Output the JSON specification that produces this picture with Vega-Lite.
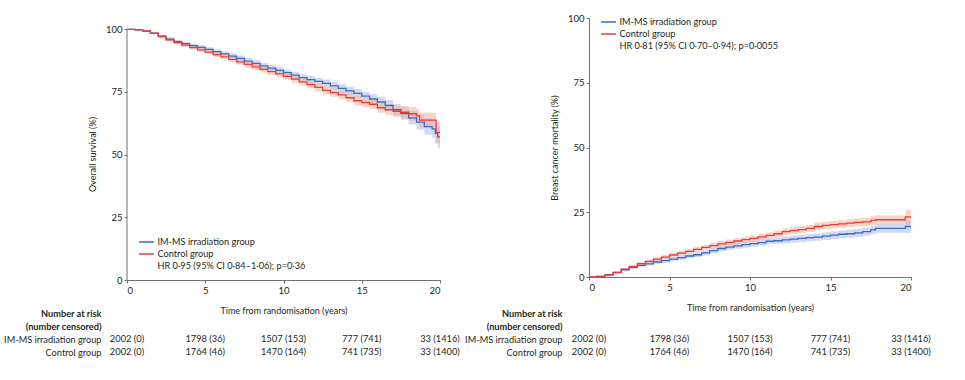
{
  "$schema": "https://vega.github.io/schema/vega-lite/v6.json",
  "background": "white",
  "padding": {"left": 3, "top": 13, "right": 0, "bottom": 0},
  "config": {
    "view": {"stroke": null},
    "axis": {"grid": false, "domainColor": "#707070", "tickColor": "#707070", "labelColor": "#231f20", "titleColor": "#231f20", "labelFont": "Lato", "labelFontSize": 9.5, "titleFont": "Lato", "titleFontSize": 9, "titleFontWeight": "normal", "tickSize": 3, "labelPadding": 2},
    "legend": {"labelFont": "Lato", "labelFontSize": 9.2, "labelColor": "#231f20", "labelLimit": 400, "symbolType": "M-1.5,0H1.5", "symbolStrokeWidth": 1.5, "symbolSize": 100, "rowPadding": -1.5, "labelOffset": 5},
    "text": {"font": "Lato", "fontSize": 9.3, "color": "#231f20"}
  },
  "datasets": {
    "os": [
      {"g": "IM-MS irradiation group", "t": 0, "v": 100, "lo": 100, "hi": 100},
      {"g": "IM-MS irradiation group", "t": 0.5, "v": 99.8, "lo": 99.6, "hi": 100},
      {"g": "IM-MS irradiation group", "t": 1, "v": 99.3, "lo": 98.9, "hi": 99.7},
      {"g": "IM-MS irradiation group", "t": 1.5, "v": 98.5, "lo": 98.0, "hi": 99.0},
      {"g": "IM-MS irradiation group", "t": 2, "v": 97.3, "lo": 96.7, "hi": 97.9},
      {"g": "IM-MS irradiation group", "t": 2.5, "v": 96.1, "lo": 95.4, "hi": 96.8},
      {"g": "IM-MS irradiation group", "t": 3, "v": 95.1, "lo": 94.4, "hi": 95.8},
      {"g": "IM-MS irradiation group", "t": 3.5, "v": 94.3, "lo": 93.5, "hi": 95.0},
      {"g": "IM-MS irradiation group", "t": 4, "v": 93.5, "lo": 92.7, "hi": 94.3},
      {"g": "IM-MS irradiation group", "t": 4.5, "v": 92.8, "lo": 91.9, "hi": 93.7},
      {"g": "IM-MS irradiation group", "t": 5, "v": 92.0, "lo": 91.1, "hi": 92.9},
      {"g": "IM-MS irradiation group", "t": 5.5, "v": 91.1, "lo": 90.1, "hi": 92.0},
      {"g": "IM-MS irradiation group", "t": 6, "v": 90.2, "lo": 89.2, "hi": 91.2},
      {"g": "IM-MS irradiation group", "t": 6.5, "v": 89.3, "lo": 88.2, "hi": 90.4},
      {"g": "IM-MS irradiation group", "t": 7, "v": 88.4, "lo": 87.3, "hi": 89.5},
      {"g": "IM-MS irradiation group", "t": 7.5, "v": 87.3, "lo": 86.1, "hi": 88.5},
      {"g": "IM-MS irradiation group", "t": 8, "v": 86.4, "lo": 85.2, "hi": 87.6},
      {"g": "IM-MS irradiation group", "t": 8.5, "v": 85.4, "lo": 84.2, "hi": 86.6},
      {"g": "IM-MS irradiation group", "t": 9, "v": 84.5, "lo": 83.2, "hi": 85.8},
      {"g": "IM-MS irradiation group", "t": 9.5, "v": 83.6, "lo": 82.3, "hi": 84.9},
      {"g": "IM-MS irradiation group", "t": 10, "v": 82.7, "lo": 81.4, "hi": 84.0},
      {"g": "IM-MS irradiation group", "t": 10.5, "v": 81.7, "lo": 80.3, "hi": 83.1},
      {"g": "IM-MS irradiation group", "t": 11, "v": 80.7, "lo": 79.3, "hi": 82.1},
      {"g": "IM-MS irradiation group", "t": 11.5, "v": 79.9, "lo": 78.4, "hi": 81.4},
      {"g": "IM-MS irradiation group", "t": 12, "v": 79.2, "lo": 77.7, "hi": 80.7},
      {"g": "IM-MS irradiation group", "t": 12.5, "v": 78.4, "lo": 76.8, "hi": 80.0},
      {"g": "IM-MS irradiation group", "t": 13, "v": 77.4, "lo": 75.8, "hi": 79.0},
      {"g": "IM-MS irradiation group", "t": 13.5, "v": 76.4, "lo": 74.7, "hi": 78.1},
      {"g": "IM-MS irradiation group", "t": 14, "v": 75.4, "lo": 73.7, "hi": 77.1},
      {"g": "IM-MS irradiation group", "t": 14.5, "v": 74.4, "lo": 72.6, "hi": 76.2},
      {"g": "IM-MS irradiation group", "t": 15, "v": 73.3, "lo": 71.5, "hi": 75.1},
      {"g": "IM-MS irradiation group", "t": 15.5, "v": 72.2, "lo": 70.3, "hi": 74.1},
      {"g": "IM-MS irradiation group", "t": 16, "v": 71.0, "lo": 69.0, "hi": 73.0},
      {"g": "IM-MS irradiation group", "t": 16.5, "v": 69.6, "lo": 67.4, "hi": 71.8},
      {"g": "IM-MS irradiation group", "t": 17, "v": 67.9, "lo": 65.6, "hi": 70.2},
      {"g": "IM-MS irradiation group", "t": 17.5, "v": 66.4, "lo": 63.9, "hi": 68.9},
      {"g": "IM-MS irradiation group", "t": 18, "v": 64.7, "lo": 62.0, "hi": 67.4},
      {"g": "IM-MS irradiation group", "t": 18.5, "v": 63.0, "lo": 60.0, "hi": 66.0},
      {"g": "IM-MS irradiation group", "t": 19, "v": 61.2, "lo": 57.9, "hi": 64.5},
      {"g": "IM-MS irradiation group", "t": 19.5, "v": 60.3, "lo": 56.7, "hi": 63.9},
      {"g": "IM-MS irradiation group", "t": 19.7, "v": 58.5, "lo": 54.5, "hi": 62.5},
      {"g": "IM-MS irradiation group", "t": 19.85, "v": 57.1, "lo": 52.6, "hi": 61.6},
      {"g": "IM-MS irradiation group", "t": 20, "v": 57.1, "lo": 52.6, "hi": 61.6},
      {"g": "Control group", "t": 0, "v": 100, "lo": 100, "hi": 100},
      {"g": "Control group", "t": 0.5, "v": 99.8, "lo": 99.6, "hi": 100},
      {"g": "Control group", "t": 1, "v": 99.4, "lo": 99.0, "hi": 99.8},
      {"g": "Control group", "t": 1.5, "v": 98.4, "lo": 97.9, "hi": 98.9},
      {"g": "Control group", "t": 2, "v": 97.1, "lo": 96.5, "hi": 97.7},
      {"g": "Control group", "t": 2.5, "v": 95.8, "lo": 95.1, "hi": 96.5},
      {"g": "Control group", "t": 3, "v": 94.7, "lo": 94.0, "hi": 95.4},
      {"g": "Control group", "t": 3.5, "v": 93.7, "lo": 92.9, "hi": 94.5},
      {"g": "Control group", "t": 4, "v": 92.7, "lo": 91.9, "hi": 93.5},
      {"g": "Control group", "t": 4.5, "v": 91.8, "lo": 90.9, "hi": 92.7},
      {"g": "Control group", "t": 5, "v": 90.9, "lo": 90.0, "hi": 91.8},
      {"g": "Control group", "t": 5.5, "v": 89.9, "lo": 88.9, "hi": 90.9},
      {"g": "Control group", "t": 6, "v": 89.0, "lo": 88.0, "hi": 90.0},
      {"g": "Control group", "t": 6.5, "v": 88.0, "lo": 86.9, "hi": 89.1},
      {"g": "Control group", "t": 7, "v": 87.0, "lo": 85.9, "hi": 88.1},
      {"g": "Control group", "t": 7.5, "v": 86.0, "lo": 84.8, "hi": 87.2},
      {"g": "Control group", "t": 8, "v": 85.0, "lo": 83.8, "hi": 86.2},
      {"g": "Control group", "t": 8.5, "v": 84.0, "lo": 82.8, "hi": 85.2},
      {"g": "Control group", "t": 9, "v": 83.1, "lo": 81.8, "hi": 84.4},
      {"g": "Control group", "t": 9.5, "v": 82.2, "lo": 80.9, "hi": 83.5},
      {"g": "Control group", "t": 10, "v": 81.2, "lo": 79.9, "hi": 82.5},
      {"g": "Control group", "t": 10.5, "v": 80.1, "lo": 78.7, "hi": 81.5},
      {"g": "Control group", "t": 11, "v": 79.0, "lo": 77.6, "hi": 80.4},
      {"g": "Control group", "t": 11.5, "v": 77.9, "lo": 76.4, "hi": 79.4},
      {"g": "Control group", "t": 12, "v": 76.8, "lo": 75.3, "hi": 78.3},
      {"g": "Control group", "t": 12.5, "v": 75.6, "lo": 74.0, "hi": 77.2},
      {"g": "Control group", "t": 13, "v": 74.7, "lo": 73.1, "hi": 76.3},
      {"g": "Control group", "t": 13.5, "v": 73.8, "lo": 72.1, "hi": 75.5},
      {"g": "Control group", "t": 14, "v": 72.7, "lo": 71.0, "hi": 74.4},
      {"g": "Control group", "t": 14.5, "v": 71.5, "lo": 69.7, "hi": 73.3},
      {"g": "Control group", "t": 15, "v": 70.8, "lo": 69.0, "hi": 72.6},
      {"g": "Control group", "t": 15.5, "v": 70.1, "lo": 68.2, "hi": 72.0},
      {"g": "Control group", "t": 16, "v": 68.7, "lo": 66.7, "hi": 70.7},
      {"g": "Control group", "t": 16.5, "v": 67.9, "lo": 65.7, "hi": 70.1},
      {"g": "Control group", "t": 17, "v": 67.3, "lo": 65.0, "hi": 69.6},
      {"g": "Control group", "t": 17.5, "v": 66.9, "lo": 64.4, "hi": 69.4},
      {"g": "Control group", "t": 18, "v": 66.3, "lo": 63.6, "hi": 69.0},
      {"g": "Control group", "t": 18.5, "v": 65.5, "lo": 62.6, "hi": 68.4},
      {"g": "Control group", "t": 18.7, "v": 63.8, "lo": 60.8, "hi": 66.8},
      {"g": "Control group", "t": 19.75, "v": 58.9, "lo": 54.4, "hi": 63.4},
      {"g": "Control group", "t": 20, "v": 58.9, "lo": 53.9, "hi": 63.9}
    ],
    "bcm": [
      {"g": "IM-MS irradiation group", "t": 0, "v": 0, "lo": 0, "hi": 0},
      {"g": "IM-MS irradiation group", "t": 0.5, "v": 0.2, "lo": 0.1, "hi": 0.3},
      {"g": "IM-MS irradiation group", "t": 1, "v": 0.8, "lo": 0.5, "hi": 1.1},
      {"g": "IM-MS irradiation group", "t": 1.5, "v": 1.7, "lo": 1.3, "hi": 2.1},
      {"g": "IM-MS irradiation group", "t": 2, "v": 2.8, "lo": 2.3, "hi": 3.3},
      {"g": "IM-MS irradiation group", "t": 2.5, "v": 3.7, "lo": 3.1, "hi": 4.3},
      {"g": "IM-MS irradiation group", "t": 3, "v": 4.5, "lo": 3.9, "hi": 5.1},
      {"g": "IM-MS irradiation group", "t": 3.5, "v": 5.1, "lo": 4.4, "hi": 5.8},
      {"g": "IM-MS irradiation group", "t": 4, "v": 5.8, "lo": 5.1, "hi": 6.5},
      {"g": "IM-MS irradiation group", "t": 4.5, "v": 6.3, "lo": 5.5, "hi": 7.1},
      {"g": "IM-MS irradiation group", "t": 5, "v": 6.9, "lo": 6.1, "hi": 7.7},
      {"g": "IM-MS irradiation group", "t": 5.5, "v": 7.5, "lo": 6.6, "hi": 8.4},
      {"g": "IM-MS irradiation group", "t": 6, "v": 8.1, "lo": 7.2, "hi": 9.0},
      {"g": "IM-MS irradiation group", "t": 6.5, "v": 8.6, "lo": 7.6, "hi": 9.6},
      {"g": "IM-MS irradiation group", "t": 7, "v": 9.3, "lo": 8.3, "hi": 10.3},
      {"g": "IM-MS irradiation group", "t": 7.5, "v": 10.2, "lo": 9.2, "hi": 11.2},
      {"g": "IM-MS irradiation group", "t": 8, "v": 11.0, "lo": 9.9, "hi": 12.1},
      {"g": "IM-MS irradiation group", "t": 8.5, "v": 11.5, "lo": 10.4, "hi": 12.6},
      {"g": "IM-MS irradiation group", "t": 9, "v": 12.0, "lo": 10.9, "hi": 13.1},
      {"g": "IM-MS irradiation group", "t": 9.5, "v": 12.5, "lo": 11.3, "hi": 13.7},
      {"g": "IM-MS irradiation group", "t": 10, "v": 12.9, "lo": 11.7, "hi": 14.1},
      {"g": "IM-MS irradiation group", "t": 10.5, "v": 13.3, "lo": 12.1, "hi": 14.5},
      {"g": "IM-MS irradiation group", "t": 11, "v": 13.8, "lo": 12.6, "hi": 15.0},
      {"g": "IM-MS irradiation group", "t": 11.5, "v": 14.0, "lo": 12.7, "hi": 15.3},
      {"g": "IM-MS irradiation group", "t": 12, "v": 14.3, "lo": 13.0, "hi": 15.6},
      {"g": "IM-MS irradiation group", "t": 12.5, "v": 14.6, "lo": 13.2, "hi": 16.0},
      {"g": "IM-MS irradiation group", "t": 13, "v": 14.9, "lo": 13.5, "hi": 16.3},
      {"g": "IM-MS irradiation group", "t": 13.5, "v": 15.2, "lo": 13.8, "hi": 16.6},
      {"g": "IM-MS irradiation group", "t": 14, "v": 15.4, "lo": 14.0, "hi": 16.8},
      {"g": "IM-MS irradiation group", "t": 14.5, "v": 15.8, "lo": 14.3, "hi": 17.3},
      {"g": "IM-MS irradiation group", "t": 15, "v": 16.2, "lo": 14.7, "hi": 17.7},
      {"g": "IM-MS irradiation group", "t": 15.5, "v": 16.5, "lo": 15.0, "hi": 18.0},
      {"g": "IM-MS irradiation group", "t": 16, "v": 16.7, "lo": 15.2, "hi": 18.2},
      {"g": "IM-MS irradiation group", "t": 16.5, "v": 17.0, "lo": 15.4, "hi": 18.6},
      {"g": "IM-MS irradiation group", "t": 17, "v": 17.5, "lo": 15.9, "hi": 19.1},
      {"g": "IM-MS irradiation group", "t": 17.5, "v": 18.2, "lo": 16.5, "hi": 19.9},
      {"g": "IM-MS irradiation group", "t": 17.8, "v": 18.8, "lo": 17.1, "hi": 20.5},
      {"g": "IM-MS irradiation group", "t": 19.6, "v": 18.8, "lo": 17.1, "hi": 20.5},
      {"g": "IM-MS irradiation group", "t": 19.65, "v": 19.5, "lo": 17.0, "hi": 22.0},
      {"g": "IM-MS irradiation group", "t": 20, "v": 19.5, "lo": 17.0, "hi": 22.0},
      {"g": "Control group", "t": 0, "v": 0, "lo": 0, "hi": 0},
      {"g": "Control group", "t": 0.5, "v": 0.2, "lo": 0.1, "hi": 0.3},
      {"g": "Control group", "t": 1, "v": 0.8, "lo": 0.5, "hi": 1.1},
      {"g": "Control group", "t": 1.5, "v": 1.8, "lo": 1.4, "hi": 2.2},
      {"g": "Control group", "t": 2, "v": 3.0, "lo": 2.5, "hi": 3.5},
      {"g": "Control group", "t": 2.5, "v": 4.0, "lo": 3.4, "hi": 4.6},
      {"g": "Control group", "t": 3, "v": 5.2, "lo": 4.6, "hi": 5.8},
      {"g": "Control group", "t": 3.5, "v": 6.0, "lo": 5.3, "hi": 6.7},
      {"g": "Control group", "t": 4, "v": 6.9, "lo": 6.2, "hi": 7.6},
      {"g": "Control group", "t": 4.5, "v": 7.7, "lo": 6.9, "hi": 8.5},
      {"g": "Control group", "t": 5, "v": 8.5, "lo": 7.7, "hi": 9.3},
      {"g": "Control group", "t": 5.5, "v": 9.2, "lo": 8.3, "hi": 10.1},
      {"g": "Control group", "t": 6, "v": 9.9, "lo": 9.0, "hi": 10.8},
      {"g": "Control group", "t": 6.5, "v": 10.7, "lo": 9.7, "hi": 11.7},
      {"g": "Control group", "t": 7, "v": 11.4, "lo": 10.4, "hi": 12.4},
      {"g": "Control group", "t": 7.5, "v": 12.1, "lo": 11.1, "hi": 13.1},
      {"g": "Control group", "t": 8, "v": 12.8, "lo": 11.7, "hi": 13.9},
      {"g": "Control group", "t": 8.5, "v": 13.4, "lo": 12.3, "hi": 14.5},
      {"g": "Control group", "t": 9, "v": 13.9, "lo": 12.8, "hi": 15.0},
      {"g": "Control group", "t": 9.5, "v": 14.4, "lo": 13.3, "hi": 15.5},
      {"g": "Control group", "t": 10, "v": 14.9, "lo": 13.7, "hi": 16.1},
      {"g": "Control group", "t": 10.5, "v": 15.5, "lo": 14.3, "hi": 16.7},
      {"g": "Control group", "t": 11, "v": 16.1, "lo": 14.9, "hi": 17.3},
      {"g": "Control group", "t": 11.5, "v": 16.7, "lo": 15.4, "hi": 18.0},
      {"g": "Control group", "t": 12, "v": 17.5, "lo": 16.2, "hi": 18.8},
      {"g": "Control group", "t": 12.5, "v": 17.9, "lo": 16.6, "hi": 19.2},
      {"g": "Control group", "t": 13, "v": 18.3, "lo": 16.9, "hi": 19.7},
      {"g": "Control group", "t": 13.5, "v": 18.8, "lo": 17.4, "hi": 20.2},
      {"g": "Control group", "t": 14, "v": 19.5, "lo": 18.1, "hi": 20.9},
      {"g": "Control group", "t": 14.5, "v": 19.9, "lo": 18.5, "hi": 21.3},
      {"g": "Control group", "t": 15, "v": 20.2, "lo": 18.7, "hi": 21.7},
      {"g": "Control group", "t": 15.5, "v": 20.5, "lo": 19.0, "hi": 22.0},
      {"g": "Control group", "t": 16, "v": 20.8, "lo": 19.3, "hi": 22.3},
      {"g": "Control group", "t": 16.5, "v": 21.1, "lo": 19.5, "hi": 22.7},
      {"g": "Control group", "t": 17, "v": 21.3, "lo": 19.7, "hi": 22.9},
      {"g": "Control group", "t": 17.5, "v": 21.9, "lo": 20.2, "hi": 23.6},
      {"g": "Control group", "t": 17.8, "v": 22.1, "lo": 20.4, "hi": 23.8},
      {"g": "Control group", "t": 19.6, "v": 22.1, "lo": 20.4, "hi": 23.8},
      {"g": "Control group", "t": 19.65, "v": 23.2, "lo": 20.4, "hi": 26.0},
      {"g": "Control group", "t": 20, "v": 23.2, "lo": 20.4, "hi": 26.0}
    ],
    "risk": [
      {"row": "IM-MS irradiation group", "t": 0, "txt": "2002 (0)"},
      {"row": "IM-MS irradiation group", "t": 5, "txt": "1798 (36)"},
      {"row": "IM-MS irradiation group", "t": 10, "txt": "1507 (153)"},
      {"row": "IM-MS irradiation group", "t": 15, "txt": "777 (741)"},
      {"row": "IM-MS irradiation group", "t": 20, "txt": "33 (1416)"},
      {"row": "Control group", "t": 0, "txt": "2002 (0)"},
      {"row": "Control group", "t": 5, "txt": "1764 (46)"},
      {"row": "Control group", "t": 10, "txt": "1470 (164)"},
      {"row": "Control group", "t": 15, "txt": "741 (735)"},
      {"row": "Control group", "t": 20, "txt": "33 (1400)"}
    ]
  },
  "spacing": 4,
  "resolve": {"scale": {"color": "independent", "x": "independent", "y": "independent"}, "legend": {"color": "independent"}},
  "hconcat": [
    {
      "bounds": "flush",
      "spacing": 26.5,
      "resolve": {"scale": {"color": "independent", "x": "independent", "y": "independent"}, "legend": {"color": "independent"}},
      "vconcat": [
        {
          "width": 313,
          "height": 262,
          "layer": [
            {
              "data": {"name": "os"},
              "mark": {"type": "area", "interpolate": "step-after", "opacity": 0.5},
              "encoding": {
                "x": {"field": "t", "type": "quantitative", "scale": {"domain": [0, 20], "nice": false}, "axis": {"values": [0, 5, 10, 15, 20], "title": "Time from randomisation (years)", "titlePadding": 12}},
                "y": {"field": "lo", "type": "quantitative", "scale": {"domain": [0, 104.5], "nice": false}, "axis": {"values": [0, 25, 50, 75, 100], "domain": false, "title": "Overall survival (%)", "titlePadding": 8, "titleY": 136}},
                "y2": {"field": "hi"},
                "color": {"field": "g", "type": "nominal", "scale": {"domain": ["IM-MS irradiation group", "Control group"], "range": ["#a4b6e6", "#f4ab92"]}, "legend": null}
              }
            },
            {
              "data": {"name": "os"},
              "mark": {"type": "line", "interpolate": "step-after", "strokeWidth": 1.3},
              "encoding": {
                "x": {"field": "t", "type": "quantitative"},
                "y": {"field": "v", "type": "quantitative", "axis": {"values": [0, 25, 50, 75, 100], "domain": false, "title": "Overall survival (%)", "titlePadding": 8, "titleY": 136}},
                "color": {"field": "g", "type": "nominal", "scale": {"domain": ["IM-MS irradiation group", "Control group", "HR 0·95 (95% CI 0·84–1·06); p=0·36"], "range": ["#3b6cc0", "#e83c3c", "rgba(0,0,0,0)"]}, "legend": {"title": null, "orient": "none", "legendX": 13.5, "legendY": 218}}
              }
            },
            {
              "data": {"values": [{}]},
              "mark": {"type": "rule", "color": "#707070"},
              "encoding": {"x": {"datum": 0}, "y": {"datum": 0}, "y2": {"datum": 100}}
            }
          ],
          "resolve": {"scale": {"color": "independent"}, "legend": {"color": "independent"}}
        },
        {
          "width": 313,
          "height": 52,
          "data": {"name": "risk"},
          "mark": {"type": "text", "align": "center", "baseline": "middle"},
          "encoding": {
            "x": {"field": "t", "type": "quantitative", "scale": {"domain": [0, 20], "nice": false}, "axis": null},
            "y": {"field": "row", "type": "nominal", "scale": {"type": "point", "domain": ["Number at risk", "(number censored)", "IM-MS irradiation group", "Control group"], "padding": 0.5}, "axis": {"title": null, "domain": false, "ticks": false, "labelPadding": 26, "labelFont": "Lato", "labelFontSize": 9.2, "labelFontWeight": {"condition": {"test": "datum.value === 'Number at risk' || datum.value === '(number censored)'", "value": "bold"}, "value": "normal"}}},
            "text": {"field": "txt", "type": "nominal"}
          }
        }
      ]
    },
    {
      "bounds": "flush",
      "spacing": 29.5,
      "resolve": {"scale": {"color": "independent", "x": "independent", "y": "independent"}, "legend": {"color": "independent"}},
      "vconcat": [
        {
          "width": 322,
          "height": 259,
          "layer": [
            {
              "data": {"name": "bcm"},
              "mark": {"type": "area", "interpolate": "step-after", "opacity": 0.5},
              "encoding": {
                "x": {"field": "t", "type": "quantitative", "scale": {"domain": [0, 20], "nice": false}, "axis": {"values": [0, 5, 10, 15, 20], "title": "Time from randomisation (years)", "titlePadding": 12}},
                "y": {"field": "lo", "type": "quantitative", "scale": {"domain": [0, 100], "nice": false}, "axis": {"values": [0, 25, 50, 75, 100], "title": "Breast cancer mortality (%)", "titlePadding": 8}},
                "y2": {"field": "hi"},
                "color": {"field": "g", "type": "nominal", "scale": {"domain": ["IM-MS irradiation group", "Control group"], "range": ["#a4b6e6", "#f4ab92"]}, "legend": null}
              }
            },
            {
              "data": {"name": "bcm"},
              "mark": {"type": "line", "interpolate": "step-after", "strokeWidth": 1.3},
              "encoding": {
                "x": {"field": "t", "type": "quantitative"},
                "y": {"field": "v", "type": "quantitative", "axis": {"values": [0, 25, 50, 75, 100], "title": "Breast cancer mortality (%)", "titlePadding": 8}},
                "color": {"field": "g", "type": "nominal", "scale": {"domain": ["IM-MS irradiation group", "Control group", "HR 0·81 (95% CI 0·70–0·94); p=0·0055"], "range": ["#3b6cc0", "#e83c3c", "rgba(0,0,0,0)"]}, "legend": {"title": null, "orient": "none", "legendX": 13.5, "legendY": -2}}
              }
            }
          ],
          "resolve": {"scale": {"color": "independent"}, "legend": {"color": "independent"}}
        },
        {
          "width": 322,
          "height": 52,
          "data": {"name": "risk"},
          "mark": {"type": "text", "align": "center", "baseline": "middle"},
          "encoding": {
            "x": {"field": "t", "type": "quantitative", "scale": {"domain": [0, 20], "nice": false}, "axis": null},
            "y": {"field": "row", "type": "nominal", "scale": {"type": "point", "domain": ["Number at risk", "(number censored)", "IM-MS irradiation group", "Control group"], "padding": 0.5}, "axis": {"title": null, "domain": false, "ticks": false, "labelPadding": 27, "labelFont": "Lato", "labelFontSize": 9.2, "labelFontWeight": {"condition": {"test": "datum.value === 'Number at risk' || datum.value === '(number censored)'", "value": "bold"}, "value": "normal"}}},
            "text": {"field": "txt", "type": "nominal"}
          }
        }
      ]
    }
  ]
}
